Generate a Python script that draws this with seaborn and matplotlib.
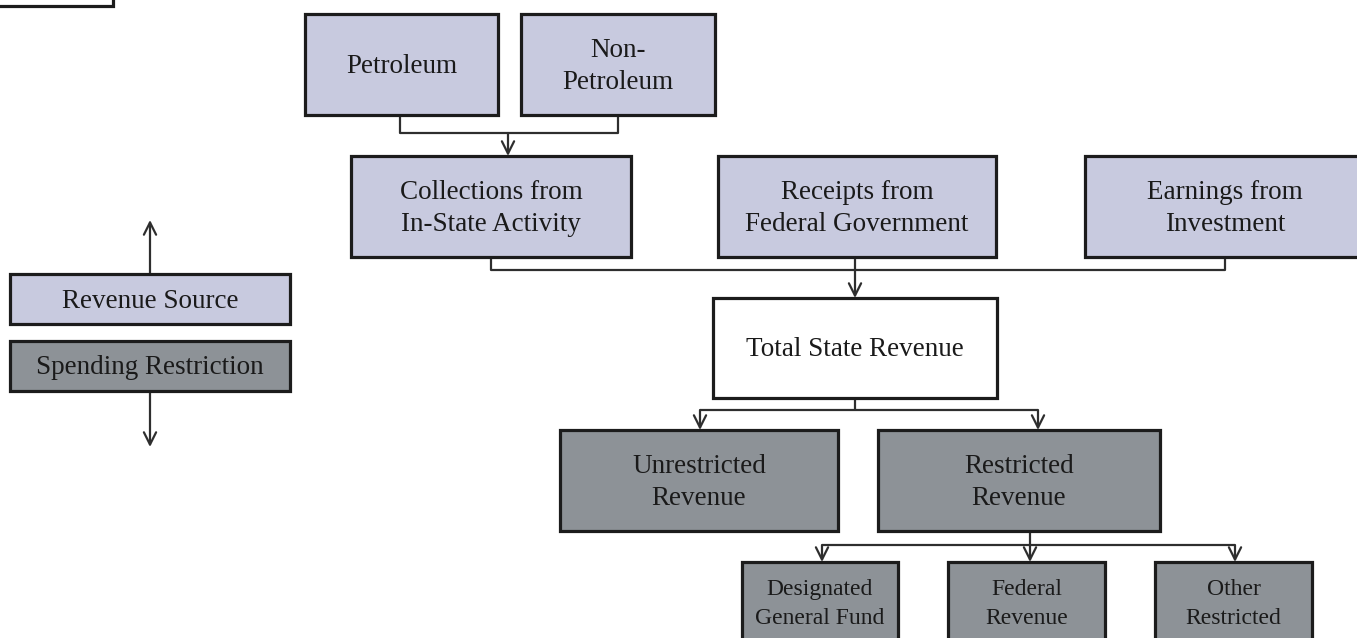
"""
Flowchart: sources of state revenue and spending restrictions.
"""
import matplotlib.pyplot as plt
import matplotlib.patches as mpatches
import seaborn as sns

sns.set_theme(style="white")
plt.rcParams["font.family"] = ["Liberation Serif", "DejaVu Serif"]

# Box labels and their kind
box_names = ["petro", "nonpetro", "instate", "federal", "invest", "total",
             "unrestricted", "restricted", "dgf", "fedrev", "other"]
box_labels = ["Petroleum", "Non-\nPetroleum", "Collections from\nIn-State Activity",
              "Receipts from\nFederal Government", "Earnings from\nInvestment",
              "Total State Revenue", "Unrestricted\nRevenue", "Restricted\nRevenue",
              "Designated\nGeneral Fund", "Federal\nRevenue", "Other\nRestricted"]
box_kinds = ["source", "source", "source", "source", "source", "total",
             "restriction", "restriction", "restriction", "restriction", "restriction"]
legend_labels = ["Revenue Source", "Spending Restriction"]

# Layout in pixel coordinates (x0, y0, x1, y1), y grows downward
layout = {
    "petro": (305, 14, 498, 115),
    "nonpetro": (521, 14, 715, 115),
    "instate": (351, 156, 631, 257),
    "federal": (718, 156, 996, 257),
    "invest": (1085, 156, 1370, 257),
    "total": (713, 298, 997, 398),
    "unrestricted": (560, 430, 838, 531),
    "restricted": (878, 430, 1160, 531),
    "dgf": (742, 562, 898, 670),
    "fedrev": (948, 562, 1105, 670),
    "other": (1155, 562, 1312, 670),
}
fills = {"source": "#c8cadf", "restriction": "#8d9297", "total": "white"}
EDGE = "#1c1c1c"
LINE = "#2e2e2e"
FS = 19.5

fig = plt.figure(figsize=(13.57, 6.38), dpi=100)
ax = fig.add_axes([0, 0, 1, 1])
ax.set_xlim(0, 1357)
ax.set_ylim(638, 0)
ax.axis("off")


def draw_box(x0, y0, x1, y1, fill, label=None, size=FS, tx=None, ty=None, ls=1.4):
    ax.add_patch(mpatches.Rectangle((x0, y0), x1 - x0, y1 - y0, facecolor=fill,
                                    edgecolor=EDGE, linewidth=2.3, zorder=2))
    if label:
        cx = tx if tx is not None else (x0 + x1) / 2
        cy = ty if ty is not None else (y0 + y1) / 2 + 2
        ax.text(cx, cy, label, ha="center", va="center", fontsize=size,
                color="#1a1a1a", linespacing=ls, zorder=3)


def line(xs, ys):
    ax.plot(xs, ys, color=LINE, linewidth=1.6, zorder=1, solid_capstyle="butt")


def arrow(x, y0, y1):
    ax.annotate("", xy=(x, y1), xytext=(x, y0),
                arrowprops=dict(arrowstyle="->", color=LINE, lw=1.6,
                                mutation_scale=22, shrinkA=0, shrinkB=0),
                zorder=1)


# Partial box at top-left corner
draw_box(-10, -60, 113, 6, "white")

for name, label, kind in zip(box_names, box_labels, box_kinds):
    x0, y0, x1, y1 = layout[name]
    if name in ("dgf", "fedrev", "other"):
        draw_box(x0, y0, x1, y1, fills[kind], label, size=17, ty=604, ls=1.5)
    elif name == "invest":
        draw_box(x0, y0, x1, y1, fills[kind], label, tx=1225)
    else:
        draw_box(x0, y0, x1, y1, fills[kind], label)

# Legend
draw_box(10, 274, 290, 324, fills["source"], legend_labels[0])
draw_box(10, 341, 290, 391, fills["restriction"], legend_labels[1])
arrow(150, 274, 220)
arrow(150, 391, 447)

# Connectors: petroleum sources -> in-state collections
line([400, 400, 618, 618], [115, 133, 133, 115])
arrow(508, 133, 156)

# Revenue sources -> total
line([491, 491, 1225, 1225], [257, 270, 270, 257])
arrow(855, 257, 298)

# Total -> unrestricted / restricted
line([855, 855], [398, 410])
line([700, 1038], [410, 410])
arrow(700, 410, 430)
arrow(1038, 410, 430)

# Restricted -> subcategories
line([1030, 1030], [531, 545])
line([822, 1235], [545, 545])
arrow(822, 545, 562)
arrow(1030, 545, 562)
arrow(1235, 545, 562)

fig.savefig("out.png", dpi=100)
